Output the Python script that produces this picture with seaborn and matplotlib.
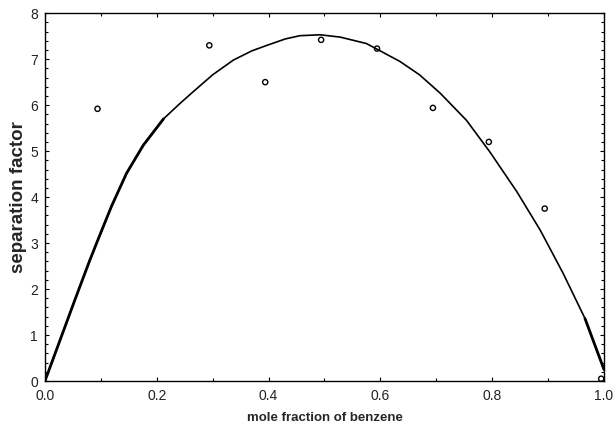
import matplotlib
matplotlib.use("Agg")
import matplotlib.pyplot as plt
import seaborn as sns
from matplotlib.ticker import MultipleLocator, FormatStrFormatter

# measured points
x_pts = [0.094, 0.294, 0.394, 0.494, 0.594, 0.694, 0.794, 0.894, 0.995]
y_pts = [5.92, 7.30, 6.50, 7.42, 7.23, 5.94, 5.20, 3.75, 0.05]

# fitted curve
x_fit = [0.0, 0.027, 0.054, 0.080, 0.098, 0.119, 0.146, 0.176, 0.212, 0.240,
         0.265, 0.300, 0.337, 0.370, 0.397, 0.430, 0.456, 0.492, 0.528, 0.575,
         0.635, 0.670, 0.707, 0.754, 0.796, 0.844, 0.886, 0.927, 0.966, 1.0]
y_fit = [0.0, 0.89, 1.78, 2.62, 3.17, 3.80, 4.52, 5.13, 5.70, 6.02,
         6.29, 6.66, 6.98, 7.18, 7.30, 7.44, 7.51, 7.53, 7.48, 7.34,
         6.95, 6.66, 6.26, 5.67, 4.98, 4.12, 3.28, 2.34, 1.36, 0.25]

sns.set_style("ticks")
plt.rcParams['font.family'] = ['Liberation Sans', 'DejaVu Sans']

fig = plt.figure(figsize=(6.16, 4.25), dpi=100)
ax = fig.add_axes([0.073, 0.1035, 0.9075, 0.8655])

sns.lineplot(x=x_fit, y=y_fit, ax=ax, color='black', linewidth=1.2, sort=False)
# thicker overlay segments as in the original
sns.lineplot(x=x_fit[:9], y=y_fit[:9], ax=ax, color='black', linewidth=2.0, sort=False)
sns.lineplot(x=x_fit[-2:], y=y_fit[-2:], ax=ax, color='black', linewidth=2.0, sort=False)
sns.scatterplot(x=x_pts, y=y_pts, ax=ax, marker='o', s=14,
                facecolor='none', edgecolor='black', linewidth=1.0, zorder=3)

ax.set_xlim(0, 1.0)
ax.set_ylim(0, 8)
ax.xaxis.set_major_locator(MultipleLocator(0.2))
ax.xaxis.set_minor_locator(MultipleLocator(0.1))
ax.yaxis.set_major_locator(MultipleLocator(1))
ax.yaxis.set_minor_locator(MultipleLocator(0.2))
ax.xaxis.set_major_formatter(FormatStrFormatter('%.1f'))
ax.tick_params(which='both', direction='in', top=True, right=True, labelsize=10,
               width=0.8, color='black', labelcolor='#222222')
ax.tick_params(axis='x', which='major', length=3, pad=6)
ax.tick_params(axis='y', which='major', length=3, pad=5)
ax.tick_params(which='minor', length=2)
for s in ax.spines.values():
    s.set_linewidth(1.0)
    s.set_color('black')
    s.set_visible(True)

ax.set_xlabel('mole fraction of benzene', fontsize=9.5, fontweight='bold', labelpad=6)
ax.set_ylabel('separation factor', fontsize=13.5, fontweight='bold', labelpad=2)

fig.savefig('out.png', dpi=100)
